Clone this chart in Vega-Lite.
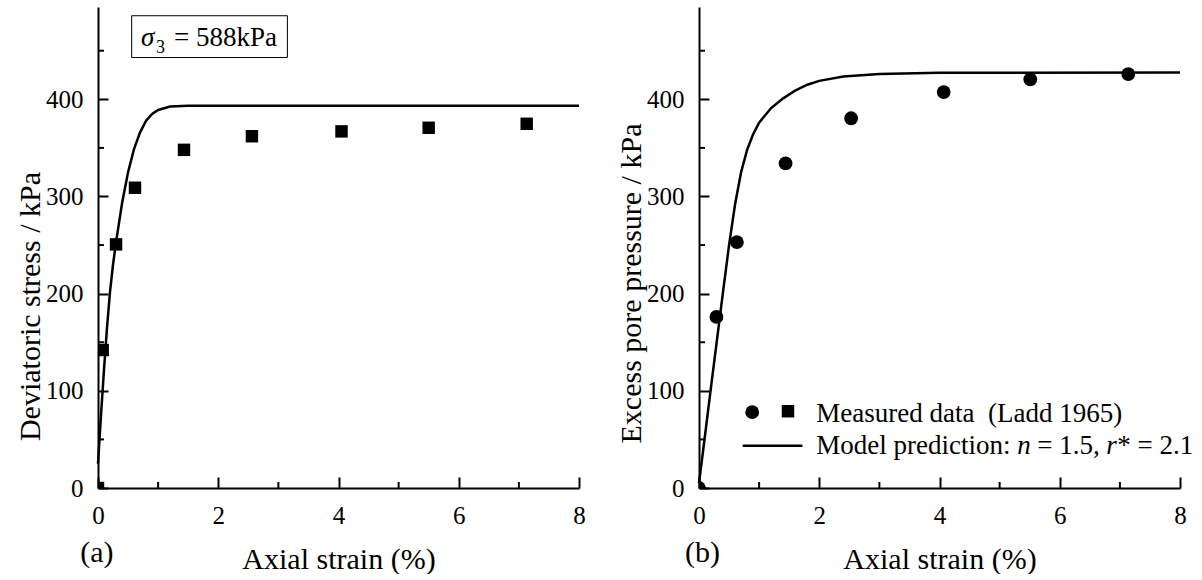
{
  "$schema": "https://vega.github.io/schema/vega-lite/v6.json",
  "background": "white",
  "padding": {"left": 15, "top": 7, "right": 0, "bottom": 0},
  "bounds": "flush",
  "spacing": 120,
  "config": {
    "font": "Liberation Serif",
    "view": {"stroke": null},
    "axis": {
      "grid": false,
      "domain": true,
      "ticks": true,
      "zindex": 1,
      "domainColor": "black",
      "domainWidth": 2,
      "tickColor": "black",
      "tickWidth": 2,
      "labelColor": "black",
      "labelFont": "Liberation Serif",
      "labelFontSize": 25,
      "labelOverlap": false,
      "labelFlush": false,
      "titleColor": "black",
      "titleFont": "Liberation Serif",
      "titleFontSize": 30,
      "titleFontWeight": "normal"
    },
    "text": {"font": "Liberation Serif", "color": "black"}
  },
  "datasets": {
    "stress_measured": [
      {"strain": 0, "q": 0},
      {"strain": 0.078, "q": 142},
      {"strain": 0.3, "q": 250.7},
      {"strain": 0.615, "q": 309},
      {"strain": 1.43, "q": 348},
      {"strain": 2.56, "q": 362},
      {"strain": 4.05, "q": 367},
      {"strain": 5.5, "q": 370.7},
      {"strain": 7.13, "q": 374.8}
    ],
    "stress_model": [
      {"strain": 0, "q": 25},
      {"strain": 0.05, "q": 75},
      {"strain": 0.1, "q": 122},
      {"strain": 0.15, "q": 165},
      {"strain": 0.2, "q": 202},
      {"strain": 0.25, "q": 230},
      {"strain": 0.3, "q": 253},
      {"strain": 0.4, "q": 293},
      {"strain": 0.5, "q": 325},
      {"strain": 0.6, "q": 349},
      {"strain": 0.7, "q": 366},
      {"strain": 0.8, "q": 378},
      {"strain": 0.9, "q": 385},
      {"strain": 1.0, "q": 389},
      {"strain": 1.2, "q": 392.5},
      {"strain": 1.5, "q": 393.5},
      {"strain": 2.0, "q": 393.5},
      {"strain": 8.0, "q": 393.5}
    ],
    "pore_measured": [
      {"strain": 0, "u": 0},
      {"strain": 0.29, "u": 176},
      {"strain": 0.63, "u": 253},
      {"strain": 1.44, "u": 334},
      {"strain": 2.53, "u": 380.5},
      {"strain": 4.07, "u": 407.5},
      {"strain": 5.51, "u": 420.5},
      {"strain": 7.14, "u": 426}
    ],
    "pore_model": [
      {"strain": 0, "u": 5},
      {"strain": 0.1, "u": 54},
      {"strain": 0.2, "u": 104},
      {"strain": 0.3, "u": 153},
      {"strain": 0.4, "u": 202},
      {"strain": 0.5, "u": 250},
      {"strain": 0.6, "u": 292},
      {"strain": 0.7, "u": 325},
      {"strain": 0.8, "u": 348},
      {"strain": 0.9, "u": 364},
      {"strain": 1.0, "u": 376},
      {"strain": 1.2, "u": 391},
      {"strain": 1.4, "u": 401},
      {"strain": 1.6, "u": 409},
      {"strain": 1.8, "u": 415},
      {"strain": 2.0, "u": 419},
      {"strain": 2.4, "u": 423.5},
      {"strain": 3.0, "u": 426},
      {"strain": 4.0, "u": 427.3},
      {"strain": 8.0, "u": 427.6}
    ],
    "minor_x": [{"v": 1}, {"v": 3}, {"v": 5}, {"v": 7}],
    "minor_y": [{"v": 50}, {"v": 150}, {"v": 250}, {"v": 350}, {"v": 450}]
  },
  "hconcat": [
    {
      "width": 481,
      "height": 481,
      "layer": [
        {
          "data": {"name": "stress_model"},
          "mark": {"type": "line", "color": "black", "strokeWidth": 2.5},
          "encoding": {
            "x": {
              "field": "strain", "type": "quantitative",
              "scale": {"domain": [0, 8], "nice": false},
              "axis": {
                "title": "Axial strain (%)",
                "values": [0, 2, 4, 6, 8],
                "format": "d",
                "tickSize": -11,
                "labelPadding": 26,
                "titlePadding": 16
              }
            },
            "y": {
              "field": "q", "type": "quantitative",
              "scale": {"domain": [0, 495], "nice": false},
              "axis": {
                "title": "Deviatoric stress / kPa",
                "values": [0, 100, 200, 300, 400],
                "format": "d",
                "tickSize": -10,
                "labelPadding": 25,
                "titlePadding": 0,
                "titleY": 299
              }
            }
          }
        },
        {
          "data": {"name": "minor_x"},
          "mark": {"type": "rule", "color": "black", "strokeWidth": 2},
          "encoding": {
            "x": {"field": "v", "type": "quantitative"},
            "y": {"datum": 0, "type": "quantitative"},
            "y2": {"datum": 6.2}
          }
        },
        {
          "data": {"name": "minor_y"},
          "mark": {"type": "rule", "color": "black", "strokeWidth": 2},
          "encoding": {
            "y": {"field": "v", "type": "quantitative"},
            "x": {"datum": 0, "type": "quantitative"},
            "x2": {"datum": 0.1}
          }
        },
        {
          "data": {"name": "stress_measured"},
          "mark": {"type": "point", "shape": "square", "filled": true, "color": "black", "opacity": 1, "size": 155, "clip": true},
          "encoding": {
            "x": {"field": "strain", "type": "quantitative"},
            "y": {"field": "q", "type": "quantitative"}
          }
        },
        {
          "data": {"values": [{}]},
          "mark": {"type": "rect", "fill": "white", "stroke": "black", "strokeWidth": 1},
          "encoding": {
            "x": {"datum": 0.56, "type": "quantitative"},
            "x2": {"datum": 3.15},
            "y": {"datum": 486, "type": "quantitative"},
            "y2": {"datum": 443}
          }
        },
        {
          "data": {"values": [{"t": "σ"}]},
          "mark": {"type": "text", "align": "left", "baseline": "alphabetic", "fontSize": 27, "fontStyle": "italic"},
          "encoding": {
            "x": {"datum": 0.715, "type": "quantitative"},
            "y": {"datum": 455, "type": "quantitative"},
            "text": {"field": "t"}
          }
        },
        {
          "data": {"values": [{"t": "3"}]},
          "mark": {"type": "text", "align": "left", "baseline": "alphabetic", "fontSize": 18, "dx": 15, "dy": 7},
          "encoding": {
            "x": {"datum": 0.715, "type": "quantitative"},
            "y": {"datum": 455, "type": "quantitative"},
            "text": {"field": "t"}
          }
        },
        {
          "data": {"values": [{"t": "= 588kPa"}]},
          "mark": {"type": "text", "align": "left", "baseline": "alphabetic", "fontSize": 27, "dx": 33},
          "encoding": {
            "x": {"datum": 0.715, "type": "quantitative"},
            "y": {"datum": 455, "type": "quantitative"},
            "text": {"field": "t"}
          }
        },
        {
          "data": {"values": [{"t": "(a)"}]},
          "mark": {"type": "text", "align": "center", "baseline": "alphabetic", "fontSize": 30},
          "encoding": {
            "x": {"datum": -0.02, "type": "quantitative"},
            "y": {"datum": -76, "type": "quantitative"},
            "text": {"field": "t"}
          }
        }
      ]
    },
    {
      "width": 481,
      "height": 481,
      "layer": [
        {
          "data": {"name": "pore_model"},
          "mark": {"type": "line", "color": "black", "strokeWidth": 2.5},
          "encoding": {
            "x": {
              "field": "strain", "type": "quantitative",
              "scale": {"domain": [0, 8], "nice": false},
              "axis": {
                "title": "Axial strain (%)",
                "values": [0, 2, 4, 6, 8],
                "format": "d",
                "tickSize": -11,
                "labelPadding": 26,
                "titlePadding": 16
              }
            },
            "y": {
              "field": "u", "type": "quantitative",
              "scale": {"domain": [0, 495], "nice": false},
              "axis": {
                "title": "Excess pore pressure / kPa",
                "values": [0, 100, 200, 300, 400],
                "format": "d",
                "tickSize": -10,
                "labelPadding": 25,
                "titlePadding": 0,
                "titleY": 276
              }
            }
          }
        },
        {
          "data": {"name": "minor_x"},
          "mark": {"type": "rule", "color": "black", "strokeWidth": 2},
          "encoding": {
            "x": {"field": "v", "type": "quantitative"},
            "y": {"datum": 0, "type": "quantitative"},
            "y2": {"datum": 6.2}
          }
        },
        {
          "data": {"name": "minor_y"},
          "mark": {"type": "rule", "color": "black", "strokeWidth": 2},
          "encoding": {
            "y": {"field": "v", "type": "quantitative"},
            "x": {"datum": 0, "type": "quantitative"},
            "x2": {"datum": 0.1}
          }
        },
        {
          "data": {"name": "pore_measured"},
          "mark": {"type": "point", "shape": "circle", "filled": true, "color": "black", "opacity": 1, "size": 190, "clip": true},
          "encoding": {
            "x": {"field": "strain", "type": "quantitative"},
            "y": {"field": "u", "type": "quantitative"}
          }
        },
        {
          "data": {"values": [{}]},
          "mark": {"type": "point", "shape": "circle", "filled": true, "color": "black", "opacity": 1, "size": 190},
          "encoding": {
            "x": {"datum": 0.885, "type": "quantitative"},
            "y": {"datum": 78, "type": "quantitative"}
          }
        },
        {
          "data": {"values": [{}]},
          "mark": {"type": "point", "shape": "square", "filled": true, "color": "black", "opacity": 1, "size": 155},
          "encoding": {
            "x": {"datum": 1.48, "type": "quantitative"},
            "y": {"datum": 79, "type": "quantitative"}
          }
        },
        {
          "data": {"values": [{}]},
          "mark": {"type": "rule", "color": "black", "strokeWidth": 2.5},
          "encoding": {
            "x": {"datum": 0.725, "type": "quantitative"},
            "x2": {"datum": 1.72},
            "y": {"datum": 43.5, "type": "quantitative"}
          }
        },
        {
          "data": {"values": [{"t": "Measured data\u00a0 (Ladd 1965)"}]},
          "mark": {"type": "text", "align": "left", "baseline": "alphabetic", "fontSize": 27},
          "encoding": {
            "x": {"datum": 1.95, "type": "quantitative"},
            "y": {"datum": 68, "type": "quantitative"},
            "text": {"field": "t"}
          }
        },
        {
          "data": {"values": [{"t": "Model prediction: "}]},
          "mark": {"type": "text", "align": "left", "baseline": "alphabetic", "fontSize": 27},
          "encoding": {
            "x": {"datum": 1.95, "type": "quantitative"},
            "y": {"datum": 35, "type": "quantitative"},
            "text": {"field": "t"}
          }
        },
        {
          "data": {"values": [{"t": "n"}]},
          "mark": {"type": "text", "align": "left", "baseline": "alphabetic", "fontSize": 27, "fontStyle": "italic", "dx": 201},
          "encoding": {
            "x": {"datum": 1.95, "type": "quantitative"},
            "y": {"datum": 35, "type": "quantitative"},
            "text": {"field": "t"}
          }
        },
        {
          "data": {"values": [{"t": "= 1.5,"}]},
          "mark": {"type": "text", "align": "left", "baseline": "alphabetic", "fontSize": 27, "dx": 221},
          "encoding": {
            "x": {"datum": 1.95, "type": "quantitative"},
            "y": {"datum": 35, "type": "quantitative"},
            "text": {"field": "t"}
          }
        },
        {
          "data": {"values": [{"t": "r"}]},
          "mark": {"type": "text", "align": "left", "baseline": "alphabetic", "fontSize": 27, "fontStyle": "italic", "dx": 290},
          "encoding": {
            "x": {"datum": 1.95, "type": "quantitative"},
            "y": {"datum": 35, "type": "quantitative"},
            "text": {"field": "t"}
          }
        },
        {
          "data": {"values": [{"t": "* = 2.1"}]},
          "mark": {"type": "text", "align": "left", "baseline": "alphabetic", "fontSize": 27, "dx": 301},
          "encoding": {
            "x": {"datum": 1.95, "type": "quantitative"},
            "y": {"datum": 35, "type": "quantitative"},
            "text": {"field": "t"}
          }
        },
        {
          "data": {"values": [{"t": "(b)"}]},
          "mark": {"type": "text", "align": "center", "baseline": "alphabetic", "fontSize": 30},
          "encoding": {
            "x": {"datum": 0.058, "type": "quantitative"},
            "y": {"datum": -76, "type": "quantitative"},
            "text": {"field": "t"}
          }
        }
      ]
    }
  ]
}
